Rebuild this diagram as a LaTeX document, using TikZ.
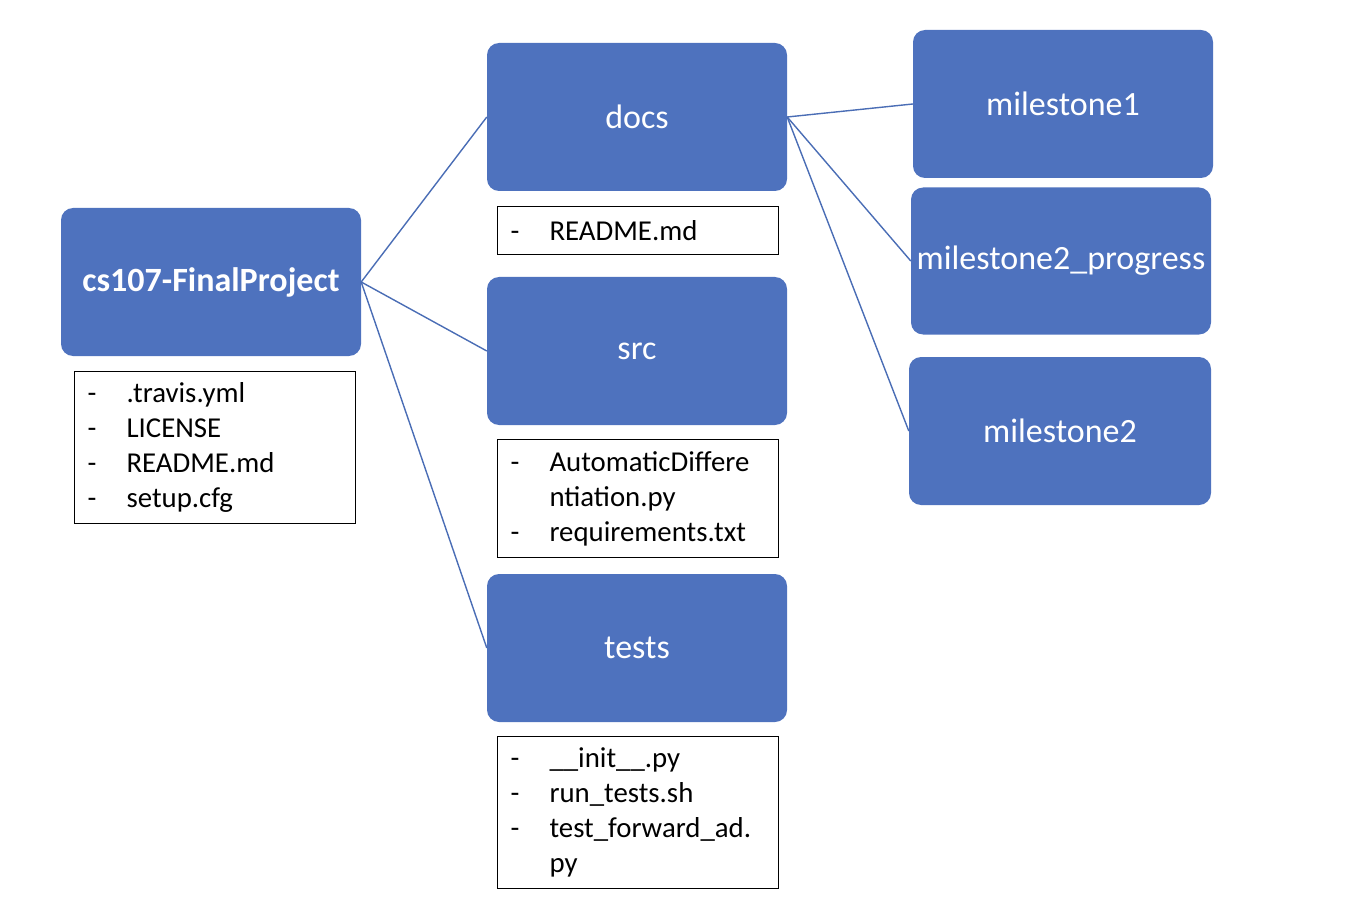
\documentclass[tikz,border=0pt]{standalone}
\usepackage{fontspec}
\setmainfont{Carlito}
\definecolor{boxblue}{HTML}{4E72BE}
\definecolor{lineblue}{HTML}{4A6DB5}
\newcommand{\fdash}{\makebox[39pt][l]{-}}
\newcommand{\findent}{\hspace*{39pt}}
\tikzset{
  folder/.style={fill=boxblue, rounded corners=12pt, minimum width=300pt,
    minimum height=148pt, text=white, font=\fontsize{34}{40}\selectfont},
  files/.style={draw=black, line width=1.1pt, anchor=north west, inner xsep=13pt,
    inner ysep=0pt, text width=255pt, align=left,
    font=\fontsize{28.8}{35}\selectfont},
  link/.style={lineblue, line width=1.4pt}
}
\begin{document}
\begin{tikzpicture}[x=1pt,y=-1pt]
\useasboundingbox (0,0) rectangle (1354,909);

\node[folder, font=\fontsize{34}{40}\selectfont\bfseries] (root) at (211,282) {cs107-FinalProject};
\node[files, minimum height=152pt] (rootfiles) at (74,371)
  {\fdash.travis.yml\\ \fdash LICENSE\\ \fdash README.md\\ \fdash setup.cfg};

\node[folder] (docs) at (637,117) {docs};
\node[files, minimum height=48pt] (docsfiles) at (497,206) {\fdash README.md};

\node[folder] (src) at (637,351) {src};
\node[files, minimum height=118pt] (srcfiles) at (497,439)
  {\fdash AutomaticDiffere\\ \findent ntiation.py\\ \fdash requirements.txt};

\node[folder] (tests) at (637,648) {tests};
\node[files, minimum height=152pt] (testsfiles) at (497,736)
  {\fdash\_\_init\_\_.py\\ \fdash run\_tests.sh\\ \fdash test\_forward\_ad.\\ \findent py};

\node[folder] (ms1) at (1063,104) {milestone1};
\node[folder, minimum height=147pt] (ms2p) at (1061,261) {milestone2\_progress};
\node[folder, minimum width=302pt] (ms2) at (1060,431) {milestone2};

% tree lines
\draw[link] (root.east) -- (docs.west);
\draw[link] (root.east) -- (src.west);
\draw[link] (root.east) -- (tests.west);
\draw[link] (docs.east) -- (ms1.west);
\draw[link] (docs.east) -- (ms2p.west);
\draw[link] (docs.east) -- (ms2.west);
\end{tikzpicture}
\end{document}
